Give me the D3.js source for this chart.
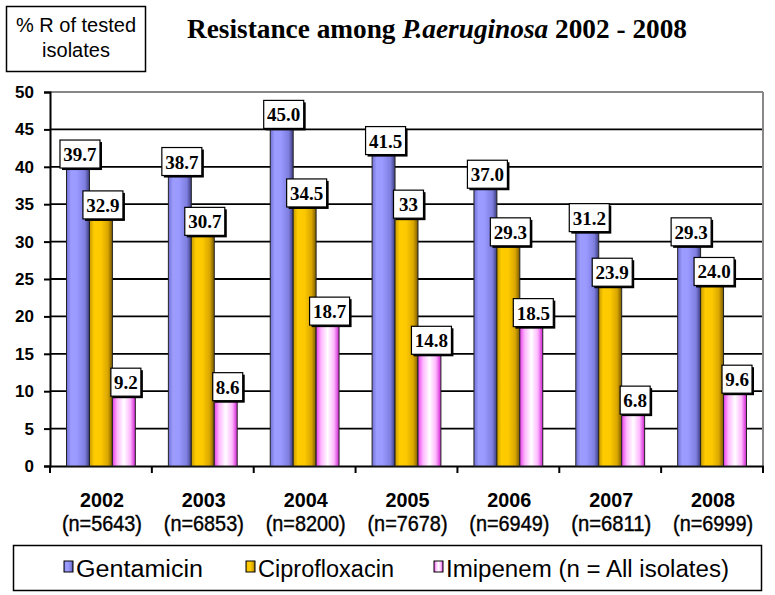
<!DOCTYPE html>
<html><head><meta charset="utf-8">
<script src="https://cdn.jsdelivr.net/npm/d3@7"></script>
<style>body{margin:0;background:#fff}svg{display:block}</style>
</head><body>
<svg id="c" width="775" height="595"></svg>
<script>
const years = ["2002","2003","2004","2005","2006","2007","2008"];
const counts = ["(n=5643)","(n=6853)","(n=8200)","(n=7678)","(n=6949)","(n=6811)","(n=6999)"];
const seriesNames = ["Gentamicin","Ciprofloxacin","Imipenem"];
const legendLabels = ["Gentamicin","Ciprofloxacin","Imipenem (n = All isolates)"];
const gentamicin = [39.7,38.7,45.0,41.5,37.0,31.2,29.3];
const ciprofloxacin = [32.9,30.7,34.5,33,29.3,23.9,24.0];
const imipenem = [9.2,8.6,18.7,14.8,18.5,6.8,9.6];
const labelText = [
  ["39.7","38.7","45.0","41.5","37.0","31.2","29.3"],
  ["32.9","30.7","34.5","33","29.3","23.9","24.0"],
  ["9.2","8.6","18.7","14.8","18.5","6.8","9.6"]
];
const yTicks = [0,5,10,15,20,25,30,35,40,45,50];

const svg = d3.select("#c");
const defs = svg.append("defs");
const grads = [
  [[0,"#6f6fd6"],[0.2,"#9d9dff"],[0.45,"#9999ff"],[0.8,"#7f7fe0"],[1,"#3d3d80"]],
  [[0,"#c79a00"],[0.2,"#ffcc00"],[0.5,"#fcc800"],[0.8,"#d9a600"],[1,"#7a5a00"]],
  [[0,"#e83ee8"],[0.22,"#ffb8ff"],[0.5,"#ffffff"],[0.78,"#ffb8ff"],[1,"#d020d0"]]
];
grads.forEach((g,i)=>{
  const lg = defs.append("linearGradient").attr("id","g"+i).attr("x1","0").attr("x2","1").attr("y1","0").attr("y2","0");
  g.forEach(s=>lg.append("stop").attr("offset",s[0]).attr("stop-color",s[1]));
});

const x0 = 50, x1 = 763, yTop = 92, yBot = 466;
const x = d3.scaleBand().domain(years).range([x0,x1]).paddingInner(0).paddingOuter(0);
const xs = d3.scaleBand().domain(seriesNames).range([0,x.bandwidth()]).paddingOuter(0.72).paddingInner(0);
const y = d3.scaleLinear().domain([0,50]).range([yBot,yTop]);

// gridlines
svg.append("g").selectAll("line").data(yTicks.filter(t=>t>0)).join("line")
  .attr("x1",x0).attr("x2",x1).attr("y1",d=>y(d)).attr("y2",d=>y(d))
  .attr("stroke",d=>d===50?"#888":"#000").attr("stroke-width",d=>d===50?2:1.8);
// right border
svg.append("line").attr("x1",x1).attr("x2",x1).attr("y1",yTop).attr("y2",yBot).attr("stroke","#888").attr("stroke-width",2);

// y axis
const ya = svg.append("g").attr("transform",`translate(${x0},0)`)
  .call(d3.axisLeft(y).tickValues(yTicks).tickSize(6).tickPadding(10));
ya.select(".domain").attr("stroke","#000").attr("stroke-width",2);
ya.selectAll(".tick line").attr("stroke","#000").attr("stroke-width",2);
ya.selectAll(".tick text").attr("font-family","Liberation Sans, Arial, sans-serif").attr("font-size",17).attr("font-weight","bold").attr("fill","#000");

// x axis
const xa = svg.append("g").attr("transform",`translate(0,${yBot})`)
  .call(d3.axisBottom(x).tickSize(0).tickFormat(""));
xa.select(".domain").attr("stroke","#000").attr("stroke-width",2);
svg.append("g").selectAll("line").data(years.concat(["end"])).join("line")
  .attr("x1",(d,i)=>x0+i*x.bandwidth()).attr("x2",(d,i)=>x0+i*x.bandwidth())
  .attr("y1",yBot).attr("y2",yBot+7).attr("stroke","#000").attr("stroke-width",2);

const xl = svg.append("g");
xl.selectAll("text.yr").data(years).join("text").attr("class","yr")
  .attr("x",d=>x(d)+x.bandwidth()/2+1).attr("y",507).attr("text-anchor","middle")
  .attr("font-family","Liberation Sans, Arial, sans-serif").attr("font-size",21).attr("font-weight","bold")
  .attr("textLength",44).attr("lengthAdjust","spacingAndGlyphs").text(d=>d);
xl.selectAll("text.n").data(counts).join("text").attr("class","n")
  .attr("x",(d,i)=>x(years[i])+x.bandwidth()/2+1).attr("y",531).attr("text-anchor","middle")
  .attr("font-family","Liberation Sans, Arial, sans-serif").attr("font-size",22).attr("stroke","#000").attr("stroke-width",0.4)
  .attr("textLength",80).attr("lengthAdjust","spacingAndGlyphs").text(d=>d);

// bars
const series = [gentamicin,ciprofloxacin,imipenem];
series.forEach((vals,si)=>{
  svg.append("g").selectAll("rect").data(vals).join("rect")
    .attr("x",(d,i)=>x(years[i])+xs(seriesNames[si]))
    .attr("y",d=>y(d)).attr("width",xs.bandwidth()).attr("height",d=>yBot-y(d))
    .attr("fill",`url(#g${si})`).attr("stroke","#222").attr("stroke-width",1);
});

// labels
series.forEach((vals,si)=>{
  const g = svg.append("g");
  vals.forEach((v,i)=>{
    const cx = x(years[i])+xs(seriesNames[si])+xs.bandwidth()/2+2;
    const t = labelText[si][i];
    const w = t.length<=3 ? 30 : 40;
    const h = 28;
    const by = y(v)-h-1;
    g.append("rect").attr("x",cx-w/2+2).attr("y",by+2).attr("width",w).attr("height",h).attr("fill","#000");
    g.append("rect").attr("x",cx-w/2).attr("y",by).attr("width",w).attr("height",h).attr("fill","#fff").attr("stroke","#000").attr("stroke-width",1.2);
    g.append("text").attr("x",cx).attr("y",by+21).attr("text-anchor","middle")
      .attr("font-family","Liberation Serif, Times New Roman, serif").attr("font-weight","bold").attr("font-size",19).text(t);
  });
});

// y-label box
svg.append("rect").attr("x",6.5).attr("y",6.5).attr("width",139).attr("height",65).attr("fill","#fff").attr("stroke","#000").attr("stroke-width",1.5);
svg.append("text").attr("x",76).attr("y",32).attr("text-anchor","middle").attr("font-family","Liberation Sans, Arial, sans-serif").attr("font-size",20).text("% R of tested");
svg.append("text").attr("x",76).attr("y",57).attr("text-anchor","middle").attr("font-family","Liberation Sans, Arial, sans-serif").attr("font-size",20).text("isolates");

// title
const tt = svg.append("text").attr("x",187).attr("y",38).attr("font-family","Liberation Serif, Times New Roman, serif").attr("font-weight","bold").attr("font-size",27.3);
tt.append("tspan").text("Resistance among ");
tt.append("tspan").attr("font-style","italic").text("P.aeruginosa");
tt.append("tspan").text(" 2002 - 2008");

// legend
svg.append("rect").attr("x",13.5).attr("y",545.5).attr("width",748).attr("height",45).attr("fill","#fff").attr("stroke","#000").attr("stroke-width",1.5);
const legX = [64,246,434];
const legW = [127,136,283];
legendLabels.forEach((l,i)=>{
  svg.append("rect").attr("x",legX[i]).attr("y",561).attr("width",9).attr("height",11).attr("fill",`url(#g${i})`).attr("stroke","#000").attr("stroke-width",1);
  svg.append("text").attr("x",legX[i]+12).attr("y",577).attr("font-family","Liberation Sans, Arial, sans-serif").attr("font-size",23)
    .attr("textLength",legW[i]).attr("lengthAdjust","spacingAndGlyphs").text(l);
});
</script>
</body></html>
